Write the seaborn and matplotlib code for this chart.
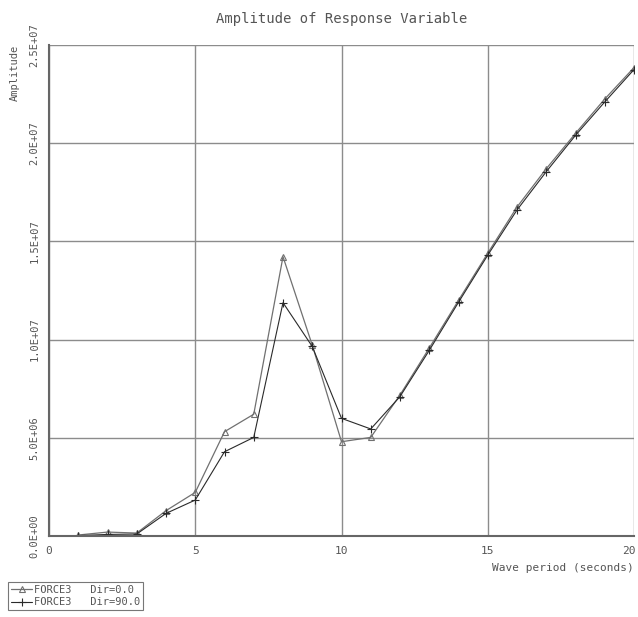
import matplotlib
matplotlib.use("Agg")
import matplotlib.pyplot as plt
import matplotlib.transforms as mtransforms
import seaborn as sns
import pandas as pd

periods = list(range(1, 21))
amp_dir0 = [0.05e6, 0.2e6, 0.15e6, 1.29e6, 2.22e6, 5.31e6, 6.2e6, 14.22e6, 9.72e6, 4.8e6,
            5.02e6, 7.18e6, 9.57e6, 12.0e6, 14.4e6, 16.75e6, 18.7e6, 20.5e6, 22.25e6, 23.85e6]
amp_dir90 = [0.02e6, 0.08e6, 0.1e6, 1.15e6, 1.83e6, 4.29e6, 5.02e6, 11.88e6, 9.65e6, 5.99e6,
             5.45e6, 7.1e6, 9.45e6, 11.9e6, 14.3e6, 16.6e6, 18.55e6, 20.4e6, 22.1e6, 23.75e6]
series_labels = ["FORCE3   Dir=0.0", "FORCE3   Dir=90.0"]
yticks = [0, 5e6, 10e6, 15e6, 20e6, 25e6]
ytick_labels = ["0.0E+00", "5.0E+06", "1.0E+07", "1.5E+07", "2.0E+07", "2.5E+07"]
xticks = [0, 5, 10, 15, 20]

sns.set_style("white")
plt.rcParams['font.family'] = ['DejaVu Sans Mono']
txt = '#555555'

fig = plt.figure(figsize=(6.38, 6.17), dpi=100)
ax = fig.add_axes([49/638, 1-536/617, (634-49)/638, (536-45)/617])

df0 = pd.DataFrame({"period": periods, "amp": amp_dir0})
df1 = pd.DataFrame({"period": periods, "amp": amp_dir90})
sns.lineplot(data=df0, x="period", y="amp", ax=ax, color='#707070', lw=0.9,
             marker='^', ms=5, mec='#707070', mfc='none', mew=0.8, label=series_labels[0])
sns.lineplot(data=df1, x="period", y="amp", ax=ax, color='#2a2a2a', lw=0.8,
             marker='+', ms=6, mec='#2a2a2a', mew=0.8, label=series_labels[1])

ax.set_xlim(0, 20)
ax.set_ylim(0, 25e6)
ax.set_xticks(xticks)
ax.set_xticklabels([str(t) for t in xticks], color=txt, fontsize=8)
ax.set_yticks(yticks)
ax.set_yticklabels(ytick_labels, color=txt, fontsize=7.5, rotation=90, va='center')
ax.tick_params(axis='both', direction='out', length=4, width=1, color='#777777', pad=3)
ax.grid(True, color='#8c8c8c', lw=1)
for s in ['top', 'right']:
    ax.spines[s].set_visible(False)
for s in ['left', 'bottom']:
    ax.spines[s].set_color('#666666')
    ax.spines[s].set_linewidth(1.5)
ax.set_axisbelow(True)

# keep the last x tick label inside the canvas
last = ax.get_xticklabels()[-1]
last.set_transform(last.get_transform() +
                   mtransforms.ScaledTranslation(-4/72, 0, fig.dpi_scale_trans))

ax.set_xlabel("Wave period (seconds)", color=txt, fontsize=8, loc='right')
ax.xaxis.set_label_coords(1.0, -0.055)
ax.set_ylabel("Amplitude", color=txt, fontsize=7.5, loc='top')
ax.yaxis.set_label_coords(-0.05, 1.0)
ax.set_title("Amplitude of Response Variable", color=txt, fontsize=10, pad=16)

ax.get_legend().remove()
handles, labels = ax.get_legend_handles_labels()
leg = fig.legend(handles, labels, loc='upper left', bbox_to_anchor=(8/638, 1-582/617),
                 frameon=True, fancybox=False, fontsize=7.5, handlelength=2.0,
                 handletextpad=0.2, borderpad=0.3, labelspacing=0.2, borderaxespad=0)
leg.get_frame().set_edgecolor('#555555')
leg.get_frame().set_linewidth(0.8)
for t in leg.get_texts():
    t.set_color(txt)

fig.savefig("out.png", dpi=100)
